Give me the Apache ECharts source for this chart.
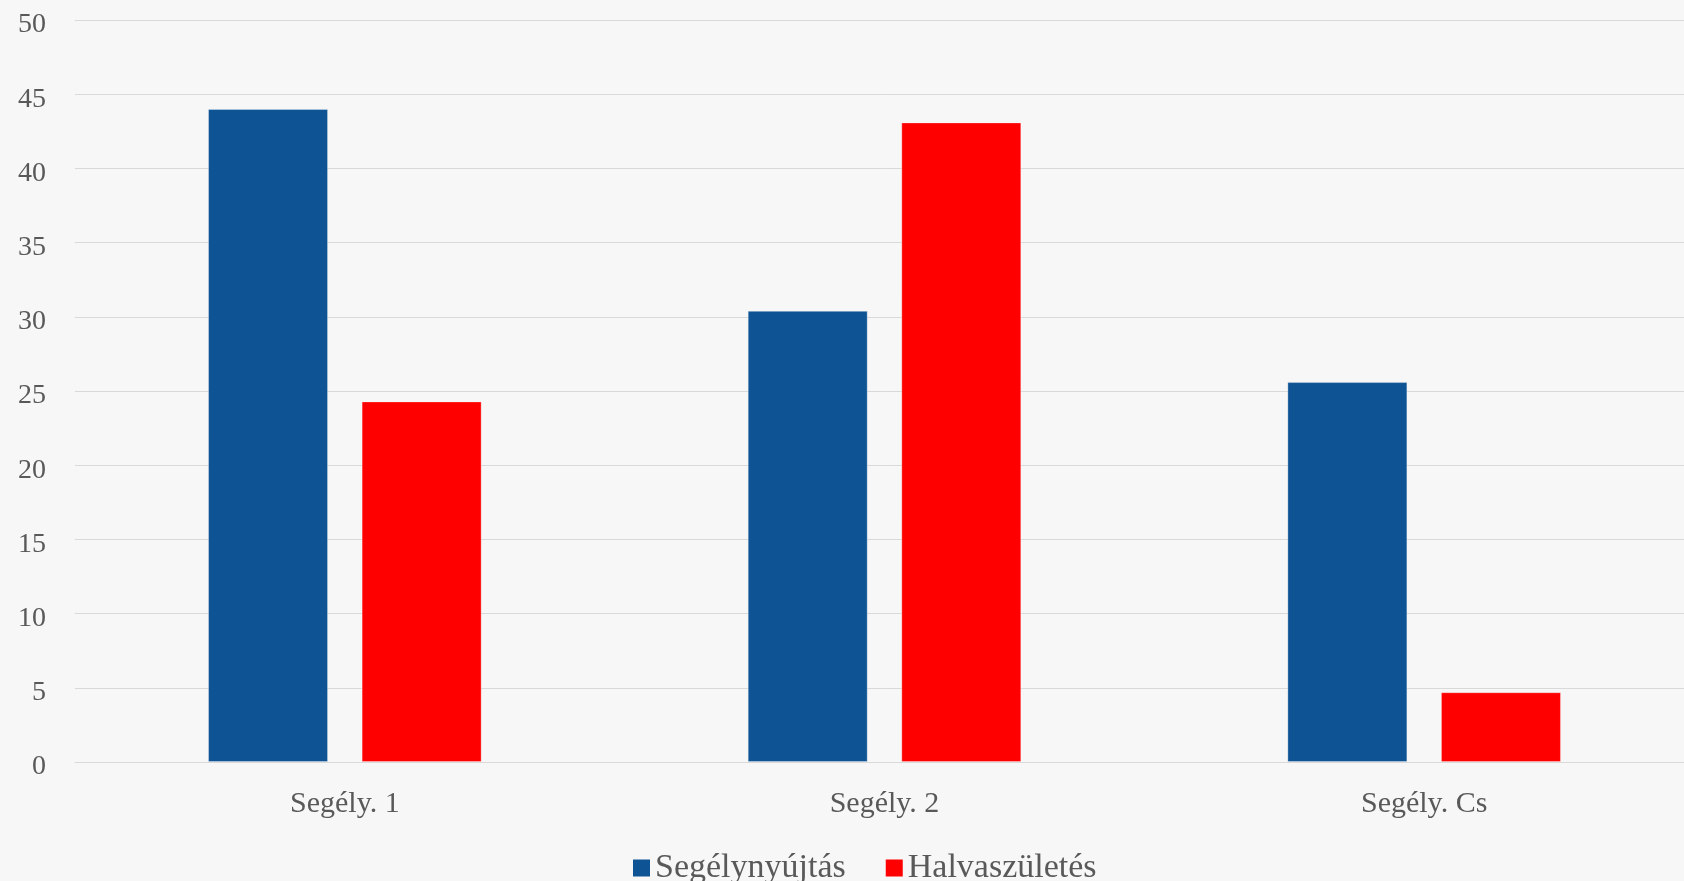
<!DOCTYPE html>
<html>
<head>
<meta charset="utf-8">
<script src="https://cdn.jsdelivr.net/npm/echarts@6/dist/echarts.min.js"></script>
<style>
html,body{margin:0;padding:0;background:#f7f7f7;overflow:hidden;}
#c{width:1694px;height:881px;}
</style>
</head>
<body>
<div id="c"></div>
<script>
const categories = ['Segély. 1', 'Segély. 2', 'Segély. Cs'];
const seriesNames = ['Segélynyújtás', 'Halvaszületés'];
const segelynyujtas = [44.0, 30.4, 25.6];
const halvaszuletes = [24.3, 43.1, 4.7];
const yTicks = {min: 0, max: 50, interval: 5};

const font = '"Liberation Serif", "DejaVu Serif", serif';
const chart = echarts.init(document.getElementById('c'), null, {renderer: 'canvas'});
chart.setOption({
  backgroundColor: '#f7f7f7',
  animation: false,
  grid: {left: 75, top: 20, right: 0, bottom: 119, containLabel: false},
  legend: {
    data: seriesNames,
    top: 846,
    left: 628,
    itemWidth: 17,
    itemHeight: 17,
    itemGap: 40,
    icon: 'rect',
    itemStyle: {borderWidth: 0},
    textStyle: {color: '#595959', fontFamily: font, fontSize: 34}
  },
  xAxis: {
    type: 'category',
    data: categories,
    axisLine: {show: true, lineStyle: {color: '#d9d9d9', width: 1}},
    axisTick: {show: false},
    axisLabel: {color: '#595959', fontFamily: font, fontSize: 30, margin: 27}
  },
  yAxis: {
    type: 'value',
    min: yTicks.min,
    max: yTicks.max,
    interval: yTicks.interval,
    axisLine: {show: false},
    axisTick: {show: false},
    splitLine: {lineStyle: {color: '#d9d9d9', width: 1}},
    axisLabel: {
      margin: 29,
      formatter: '{a|{value}}',
      rich: {a: {color: '#595959', fontFamily: font, fontSize: 28, padding: [10, 0, 0, 0]}}
    }
  },
  series: [
    {name: seriesNames[0], type: 'bar', data: segelynyujtas, barWidth: 120, barGap: '28%',
     itemStyle: {color: '#0e5394', borderColor: 'rgba(255,255,255,0.3)', borderWidth: 1}},
    {name: seriesNames[1], type: 'bar', data: halvaszuletes, barWidth: 120, barGap: '28%',
     itemStyle: {color: '#ff0000', borderColor: 'rgba(255,255,255,0.3)', borderWidth: 1}}
  ]
});
</script>
</body>
</html>
